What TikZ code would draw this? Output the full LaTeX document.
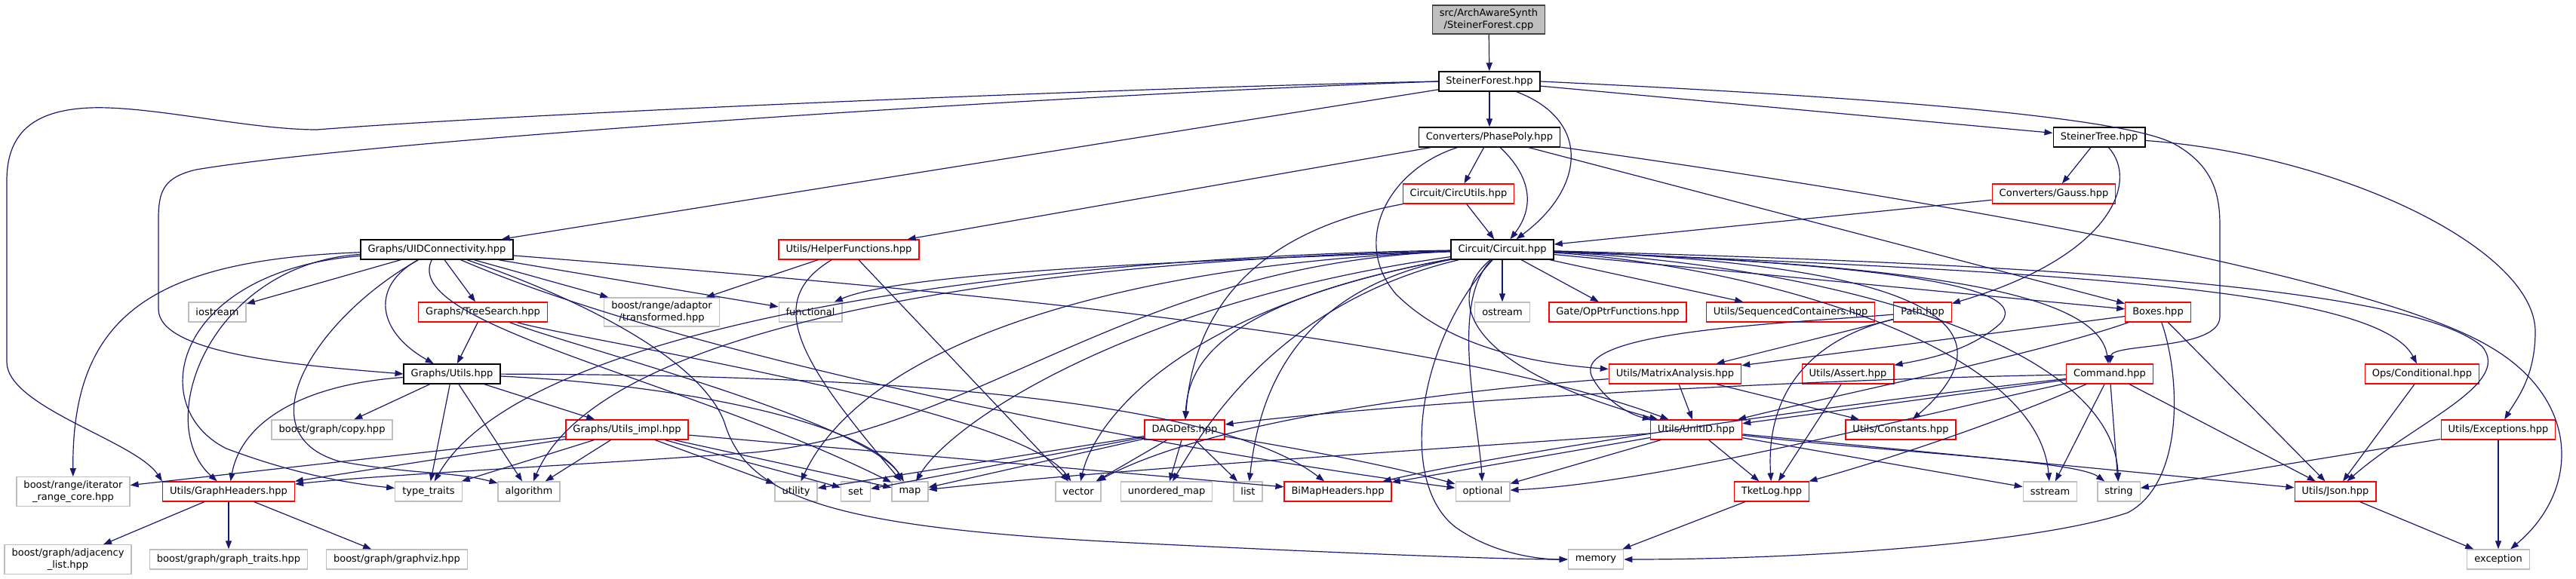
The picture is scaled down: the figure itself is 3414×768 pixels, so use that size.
\documentclass[tikz,border=0pt]{standalone}
\usepackage{fontspec}
\newfontfamily\dv{DejaVu Sans}
\usetikzlibrary{arrows.meta}
\definecolor{edgec}{RGB}{25,25,112}
\definecolor{grayb}{RGB}{191,191,191}
\definecolor{darkb}{RGB}{64,64,64}
\definecolor{redb}{RGB}{255,0,0}
\tikzset{
  bx/.style={rectangle, line width=1.3pt, font=\dv\fontsize{13}{15.5}\selectfont, inner xsep=9.5pt, inner ysep=5pt, minimum height=26pt, align=center},
  kbox/.style={bx, draw=black, line width=1.5pt},
  rbox/.style={bx, draw=redb},
  gbox/.style={bx, draw=grayb},
  rootbox/.style={bx, draw=darkb, fill=grayb, line width=1.5pt},
  e/.style={draw=edgec, line width=1.2pt, -{Triangle[length=11pt,width=8pt]}}
}
\begin{document}
\begin{tikzpicture}[x=1pt,y=-1pt]
\useasboundingbox (0,0) rectangle (3414,768);
% nodes
\node[rootbox] (root) at (1973,26) {src/ArchAwareSynth\\/SteinerForest.cpp};
\node[kbox] (sfh) at (1974,108) {SteinerForest.hpp};
\node[kbox] (pp) at (1974,182) {Converters/PhasePoly.hpp};
\node[kbox] (st) at (2782,182) {SteinerTree.hpp};
\node[kbox] (uid) at (579,331) {Graphs/UIDConnectivity.hpp};
\node[rbox] (hf) at (1125,331) {Utils/HelperFunctions.hpp};
\node[rbox] (cu) at (1933,257) {Circuit/CircUtils.hpp};
\node[rbox] (ga) at (2722,257) {Converters/Gauss.hpp};
\node[kbox] (circ) at (1991,331) {Circuit/Circuit.hpp};
\node[gbox] (ios) at (288,414) {iostream};
\node[rbox] (ts) at (640,414) {Graphs/TreeSearch.hpp};
\node[gbox] (tr) at (877,414) {boost/range/adaptor\\/transformed.hpp};
\node[gbox] (fn) at (1074,414) {functional};
\node[gbox] (os) at (1991,414) {ostream};
\node[rbox] (opf) at (2144,414) {Gate/OpPtrFunctions.hpp};
\node[rbox] (sc) at (2373,414) {Utils/SequencedContainers.hpp};
\node[rbox] (path) at (2548,414) {Path.hpp};
\node[rbox] (box) at (2860,414) {Boxes.hpp};
\node[kbox] (gu) at (599,496) {Graphs/Utils.hpp};
\node[rbox] (ma) at (2220,496) {Utils/MatrixAnalysis.hpp};
\node[rbox] (as) at (2449,496) {Utils/Assert.hpp};
\node[rbox] (cmd) at (2796,496) {Command.hpp};
\node[rbox] (cond) at (3210,496) {Ops/Conditional.hpp};
\node[gbox] (copy) at (440,570) {boost/graph/copy.hpp};
\node[rbox] (gui) at (831,570) {Graphs/Utils\_impl.hpp};
\node[rbox] (dag) at (1570,570) {DAGDefs.hpp};
\node[rbox] (unit) at (2248,570) {Utils/UnitID.hpp};
\node[rbox] (const) at (2519,570) {Utils/Constants.hpp};
\node[rbox] (exc) at (3311,570) {Utils/Exceptions.hpp};
\node[gbox] (irc) at (97,652) {boost/range/iterator\\\_range\_core.hpp};
\node[rbox] (gh) at (303,652) {Utils/GraphHeaders.hpp};
\node[gbox] (tt) at (568,652) {type\_traits};
\node[gbox] (alg) at (701,652) {algorithm};
\node[gbox] (util) at (1055,652) {utility};
\node[gbox] (set) at (1134,652) {set};
\node[gbox] (map) at (1206,652) {map};
\node[gbox] (vec) at (1429,652) {vector};
\node[gbox] (umap) at (1546,652) {unordered\_map};
\node[gbox] (list) at (1654,652) {list};
\node[rbox] (bimap) at (1773,652) {BiMapHeaders.hpp};
\node[gbox] (opt) at (1965,652) {optional};
\node[rbox] (log) at (2348,652) {TketLog.hpp};
\node[gbox] (ss) at (2717,652) {sstream};
\node[gbox] (str) at (2808,652) {string};
\node[rbox] (json) at (3095,652) {Utils/Json.hpp};
\node[gbox] (adj) at (90,742) {boost/graph/adjacency\\\_list.hpp};
\node[gbox] (gtr) at (303,742) {boost/graph/graph\_traits.hpp};
\node[gbox] (gviz) at (526,742) {boost/graph/graphviz.hpp};
\node[gbox] (mem) at (2115,742) {memory};
\node[gbox] (excp) at (3311,742) {exception};
% root, sfh
\draw[e] (root) -- (sfh);
\draw[e] (sfh) -- (pp);
\draw[e] (sfh) -- (st);
\draw[e] (sfh) -- (uid);
\draw[e] (sfh) .. controls (2110,160) and (2100,250) .. (circ);
\draw[e] (sfh.west) .. controls (1500,116) and (700,150) .. (420,172) .. controls (330,172) and (200,140) .. (120,143) .. controls (40,146) and (9,180) .. (9,240) -- (9,480) .. controls (9,540) and (180,585) .. (gh.north west);
\draw[e] (sfh.west) .. controls (1400,126) and (500,185) .. (260,225) .. controls (218,235) and (210,252) .. (210,290) -- (210,410) .. controls (210,470) and (400,485) .. (gu.west);
\draw[e] (sfh.east) .. controls (2400,125) and (2800,150) .. (2880,190) .. controls (2935,220) and (2942,260) .. (2942,300) -- (2942,420) .. controls (2942,465) and (2800,455) .. (cmd.north);
% pp
\draw[e] (pp) -- (cu);
\draw[e] (pp) .. controls (2035,240) and (2030,280) .. (circ);
\draw[e] (pp) -- (hf);
\draw[e] (pp) .. controls (1840,225) and (1790,320) .. (1850,390) .. controls (1920,460) and (2030,482) .. (ma);
\draw[e] (pp) -- (box);
\draw[e] (pp) .. controls (2600,270) and (3150,370) .. (3300,460) .. controls (3420,530) and (3420,650) .. (excp);
% st
\draw[e] (st) -- (ga);
\draw[e] (st) .. controls (2835,240) and (2800,340) .. (path);
\draw[e] (st) .. controls (3100,205) and (3360,330) .. (3360,440) .. controls (3360,500) and (3335,530) .. (exc);
% ga, cu
\draw[e] (ga) -- (circ);
\draw[e] (cu) -- (circ);
\draw[e] (cu) .. controls (1700,300) and (1585,380) .. (dag);
% hf
\draw[e] (hf) -- (tr);
\draw[e] (hf) .. controls (1010,400) and (1060,480) .. (map);
\draw[e] (hf) -- (vec);
% uid
\draw[e] (uid) -- (ios);
\draw[e] (uid) -- (ts);
\draw[e] (uid) -- (tr);
\draw[e] (uid) -- (fn);
\draw[e] (uid) .. controls (490,380) and (500,440) .. (gu);
\draw[e] (uid) .. controls (280,350) and (200,560) .. (gh);
\draw[e] (uid) .. controls (200,345) and (95,420) .. (irc);
\draw[e] (uid) .. controls (230,360) and (190,540) .. (300,595) .. controls (380,625) and (450,640) .. (tt);
\draw[e] (uid) .. controls (420,420) and (320,575) .. (450,612) .. controls (550,630) and (600,625) .. (alg);
\draw[e] (uid) .. controls (530,430) and (900,500) .. (map);
\draw[e] (uid) .. controls (1200,380) and (1900,440) .. (unit);
\draw[e] (uid) .. controls (900,470) and (1500,590) .. (opt);
\draw[e] (uid) .. controls (780,400) and (930,480) .. (960,560) .. controls (990,660) and (1100,700) .. (1500,720) .. controls (1800,735) and (2000,742) .. (mem);
% ts
\draw[e] (ts) -- (gu);
\draw[e] (ts) .. controls (760,460) and (1150,560) .. (map);
\draw[e] (ts) .. controls (760,450) and (1350,540) .. (vec);
% circ left
\draw[e] (circ) .. controls (1600,345) and (1200,360) .. (fn);
\draw[e] (circ) .. controls (1500,350) and (1150,450) .. (util);
\draw[e] (circ) .. controls (1500,400) and (1260,560) .. (map);
\draw[e] (circ) .. controls (1560,410) and (1450,560) .. (vec);
\draw[e] (circ) .. controls (1700,400) and (1600,560) .. (umap);
\draw[e] (circ) .. controls (1690,390) and (1665,560) .. (list);
\draw[e] (circ) .. controls (1620,400) and (1575,480) .. (dag);
\draw[e] (circ) .. controls (1400,345) and (800,420) .. (alg);
\draw[e] (circ) .. controls (1400,340) and (700,420) .. (tt);
\draw[e] (circ) .. controls (1500,350) and (1300,570) .. (1000,600) .. controls (800,615) and (500,630) .. (gh);
% circ down
\draw[e] (circ) -- (os);
\draw[e] (circ) -- (opf);
\draw[e] (circ) -- (sc);
\draw[e] (circ) .. controls (1910,400) and (1950,490) .. (unit);
\draw[e] (circ) .. controls (1920,400) and (1960,560) .. (opt);
\draw[e] (circ) .. controls (1880,450) and (1850,640) .. (1930,700) .. controls (1980,735) and (2040,742) .. (mem);
% circ right
\draw[e] (circ) -- (box);
\draw[e] (circ) .. controls (2500,350) and (2700,380) .. (2650,430) .. controls (2610,465) and (2560,475) .. (as);
\draw[e] (circ) .. controls (2550,350) and (2680,430) .. (const);
\draw[e] (circ) .. controls (2500,350) and (2780,380) .. (cmd);
\draw[e] (circ) .. controls (2700,360) and (3150,380) .. (cond);
\draw[e] (circ) .. controls (2700,350) and (3200,380) .. (3290,460) .. controls (3330,510) and (3200,560) .. (json);
\draw[e] (circ) .. controls (2400,350) and (2800,450) .. (str);
\draw[e] (circ) .. controls (2300,350) and (2700,450) .. (ss);
% path
\draw[e] (path) -- (ma);
\draw[e] (path) .. controls (2350,430) and (2080,440) .. (2110,500) .. controls (2125,530) and (2160,550) .. (unit);
\draw[e] (path) .. controls (2400,450) and (2340,520) .. (log);
% box
\draw[e] (box) -- (ma);
\draw[e] (box) .. controls (2700,470) and (2450,520) .. (unit);
\draw[e] (box) -- (json);
\draw[e] (box) .. controls (2890,500) and (2895,640) .. (2820,680) .. controls (2700,720) and (2400,742) .. (mem);
% gu
\draw[e] (gu) -- (copy);
\draw[e] (gu) -- (gui);
\draw[e] (gu) .. controls (400,510) and (320,560) .. (gh);
\draw[e] (gu) -- (tt);
\draw[e] (gu) -- (alg);
\draw[e] (gu) .. controls (900,510) and (1150,560) .. (map);
\draw[e] (gu) .. controls (1100,497) and (1600,520) .. (bimap);
% gui
\draw[e] (gui) -- (gh);
\draw[e] (gui) -- (irc);
\draw[e] (gui) -- (tt);
\draw[e] (gui) -- (alg);
\draw[e] (gui) -- (util);
\draw[e] (gui) -- (set);
\draw[e] (gui) -- (map);
\draw[e] (gui) -- (bimap);
% dag
\draw[e] (dag) -- (util);
\draw[e] (dag) -- (set);
\draw[e] (dag) -- (map);
\draw[e] (dag) -- (vec);
\draw[e] (dag) -- (umap);
\draw[e] (dag) -- (list);
\draw[e] (dag) .. controls (1750,600) and (1850,620) .. (opt);
% ma, as
\draw[e] (ma) -- (unit);
\draw[e] (ma) -- (const);
\draw[e] (ma) .. controls (1900,520) and (1600,560) .. (vec);
\draw[e] (as) -- (log);
% cmd
\draw[e] (cmd) .. controls (2300,505) and (1800,540) .. (dag);
\draw[e] (cmd) -- (unit);
\draw[e] (cmd) .. controls (2650,560) and (2500,610) .. (log);
\draw[e] (cmd) -- (ss);
\draw[e] (cmd) -- (str);
\draw[e] (cmd) -- (json);
\draw[e] (cmd) .. controls (2500,560) and (2200,640) .. (opt);
\draw[e] (cmd) .. controls (2400,540) and (2000,600) .. (bimap);
% unit
\draw[e] (unit) -- (log);
\draw[e] (unit) -- (ss);
\draw[e] (unit) .. controls (2500,600) and (2750,610) .. (str);
\draw[e] (unit) -- (json);
\draw[e] (unit) .. controls (2000,590) and (1500,620) .. (map);
\draw[e] (unit) -- (bimap);
\draw[e] (unit) -- (opt);
% others
\draw[e] (cond) -- (json);
\draw[e] (exc) -- (str);
\draw[e] (exc) -- (excp);
\draw[e] (json) -- (excp);
\draw[e] (log) -- (mem);
\draw[e] (gh) -- (adj);
\draw[e] (gh) -- (gtr);
\draw[e] (gh) -- (gviz);
\end{tikzpicture}
\end{document}
